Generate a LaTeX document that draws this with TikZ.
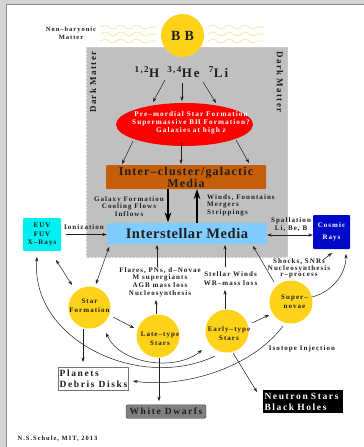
\documentclass[tikz,border=0pt]{standalone}
\usepackage{fontspec}
\setmainfont{Liberation Serif}
\newfontfamily\lsA[LetterSpace=15]{Liberation Serif}
\newfontfamily\lsB[LetterSpace=4]{Liberation Serif}
\newfontfamily\lsC[LetterSpace=10]{Liberation Serif}
\newfontfamily\lsD[LetterSpace=17]{Liberation Serif}
\newfontfamily\lsE[LetterSpace=30]{Liberation Serif}
\usetikzlibrary{arrows.meta,decorations.pathmorphing,shapes.geometric,calc}
\definecolor{pagegray}{RGB}{212,212,212}
\definecolor{edgegray}{RGB}{140,140,140}
\definecolor{gold}{RGB}{254,210,24}
\definecolor{dmgray}{RGB}{192,192,192}
\definecolor{wavecol}{RGB}{245,228,150}
\definecolor{icbrown}{RGB}{196,94,8}
\definecolor{ismblue}{RGB}{128,204,255}
\definecolor{euvcyan}{RGB}{0,240,240}
\definecolor{crblue}{RGB}{0,10,200}
\definecolor{wdgray}{RGB}{128,128,128}
\definecolor{ink}{RGB}{30,30,30}
\begin{document}
\begin{tikzpicture}[x=1pt,y=-1pt,
  lbl/.style={font=\lsA\bfseries\fontsize{7}{7.6}\selectfont, text=ink, align=center, inner sep=0},
  ctxt/.style={font=\lsA\bfseries\fontsize{7}{9}\selectfont, text=ink, align=center, inner sep=0},
  isotope/.style={font=\lsA\bfseries\fontsize{13}{13}\selectfont, text=ink, inner sep=0},
  dmtext/.style={font=\lsA\bfseries\fontsize{9}{9}\selectfont, text=ink, inner sep=0},
  star/.style={circle, fill=gold, inner sep=0},
  bigbox/.style={font=\lsD\bfseries\fontsize{9.5}{11}\selectfont, align=left, inner ysep=0, inner xsep=1.5pt},
  wavy/.style={draw=wavecol, line width=0.6pt, decorate, decoration={snake, segment length=16pt, amplitude=2pt}},
  arr/.style={-{Stealth[length=4.5pt,width=3.2pt]}, draw=ink, line width=0.5pt},
  darr/.style={{Stealth[length=4.5pt,width=3.2pt]}-{Stealth[length=4.5pt,width=3.2pt]}, draw=ink, line width=0.5pt},
  bigarr/.style={-{Stealth[length=10pt,width=6.5pt]}, draw=black, line width=1.4pt}]
\useasboundingbox (0,0) rectangle (364,447);
\fill[pagegray] (0,0) rectangle (364,447);
\fill[white] (6,4) rectangle (364,447);
\draw[edgegray, line width=0.8pt] (6,447) -- (6,4) -- (364,4);

% waves
\foreach \yy in {27,34,41} {
  \draw[wavy] (100,\yy) -- (156,\yy);
  \draw[wavy] (208,\yy) -- (265,\yy);
}
\node[lbl, font=\lsA\bfseries\fontsize{6.5}{8}\selectfont] (nb) at (71,33) {Non–baryonic\\Matter};

% dark matter region
\node[draw=white!80!black, densely dotted, fill=dmgray, minimum width=201pt, minimum height=210pt, inner sep=0] (dm) at (187,152) {};
\node[dmtext, rotate=90] (dml) at (93,82) {Dark Matter};
\node[dmtext, rotate=-90] (dmr) at (280,82) {Dark Matter};

% Big Bang
\node[star, minimum size=43pt, font=\lsE\bfseries\fontsize{14}{14}\selectfont, text=ink] (bb) at (182.5,35.5) {BB};

% isotopes
\node[isotope] (h) at (147,72) {\textsuperscript{1,2}H};
\node[isotope] (he) at (183.5,72) {\textsuperscript{3,4}He};
\node[isotope] (li) at (218.5,72) {\textsuperscript{7}Li};

% ellipse
\node[ellipse, fill=red, minimum width=137pt, minimum height=43pt, inner sep=0] (el) at (184.5,124.5) {};
\node[lbl, text=white, font=\lsA\bfseries\fontsize{7.2}{8}\selectfont] (elt) at (191,123) {Pre–mordial Star Formation\\Supermassive BH Formation?\\Galaxies at high z};

% media boxes
\node[fill=icbrown, minimum width=160pt, minimum height=24pt, inner sep=0, rounded corners=1pt, align=center, font=\lsC\bfseries\fontsize{12}{10.5}\selectfont, text=ink] (ic) at (186,177) {Inter–cluster/galactic\\Media};
\node[fill=ismblue, minimum width=160pt, minimum height=21pt, inner sep=0, font=\lsB\bfseries\fontsize{14.5}{15}\selectfont, text=ink] (ism) at (187,233.5) {Interstellar Media};
\node[fill=euvcyan, minimum width=38pt, minimum height=33pt, rounded corners=1pt, lbl, font=\lsA\bfseries\fontsize{7}{8.5}\selectfont] (euv) at (42,234.5) {EUV\\FUV\\X–Rays};
\node[fill=crblue, minimum width=37pt, minimum height=34pt, rounded corners=1pt, lbl, text=white, font=\lsA\bfseries\fontsize{7}{11.7}\selectfont] (cr) at (331.5,232) {Cosmic\\Rays};

% labels
\node[lbl] (gf) at (129,206.5) {Galaxy Formation\\Cooling Flows\\Inflows};
\node[lbl, align=left, anchor=west] (wf) at (207,205) {Winds, Fountains\\Mergers\\Strippings};
\node[lbl] (ion) at (84,227) {Ionization};
\node[lbl] (spall) at (291,224.5) {Spallation\\Li, Be, B};
\node[lbl] (fl) at (160,282) {Flares, PNs, d–Novae\\M supergiants\\AGB mass loss\\Nucleosynthesis};
\node[lbl, font=\lsA\bfseries\fontsize{7}{9}\selectfont] (sw) at (230.5,278.5) {Stellar Winds\\WR–mass loss};
\node[lbl, font=\lsA\bfseries\fontsize{7}{6.8}\selectfont] (sh) at (299,268.5) {Shocks, SNRs\\Nucleosynthesis\\r–process};
\node[lbl] (iso) at (302,348.5) {Isotope Injection};
\node[lbl, font=\lsA\bfseries\fontsize{6.5}{7}\selectfont] (credit) at (57.5,438.7) {N.S.Schulz, MIT, 2013};

% stars
\node[star, minimum size=42pt] (sf) at (89.5,307.5) {};
\node[star, minimum size=43pt] (lt) at (158,336) {};
\node[star, minimum size=43pt] (et) at (227,331) {};
\node[star, minimum size=43pt] (sn) at (291,302) {};
\node[ctxt] (sft) at (89.5,306) {Star\\Formation};
\node[ctxt] (ltt) at (160,339) {Late–type\\Stars};
\node[ctxt] (ett) at (229,333.7) {Early–type\\Stars};
\node[ctxt] (snt) at (294.5,301.7) {Super–\\novae};

% end products
\node[bigbox, draw=black!55, fill=white, minimum width=69pt, minimum height=23pt, inner xsep=1pt, text=ink] (pl) at (93.5,378.5) {Planets\\Debris Disks};
\node[bigbox, draw=black!75, fill=wdgray, rounded corners=1.5pt, minimum width=80pt, minimum height=13.5pt, align=center, text=ink] (wd) at (166,411.5) {White Dwarfs};
\node[bigbox, fill=black, text width=77pt, minimum height=23pt, text=white] (ns) at (303,401.5) {Neutron Stars\\Black Holes};

% connectors: top
\draw[arr] ($(h)+(18,8)$) -- ($(el)+(-31.5,-22.5)$);
\draw[arr] ($(he)+(-1.5,11)$) -- ($(el)+(-2.5,-23.5)$);
\draw[arr] ($(li)+(-15.5,10)$) -- ($(el)+(31.5,-21.5)$);
\draw[arr] ($(el)+(-51.5,16.5)$) -- ($(ic)+(-64,-13)$);
\draw[arr] ($(el)+(-3.5,18.5)$) -- ($(ic)+(-5,-13)$);
\draw[arr] ($(el)+(51.5,15.5)$) -- ($(ic)+(63,-14)$);
\draw[bigarr] ($(ic)+(-18,12)$) -- ($(ism)+(-19,-11)$);
\draw[bigarr] ($(ism)+(10,-11)$) -- ($(ic)+(11,12)$);

% around ISM
\draw[arr] ($(euv.east)+(5,0)$) -- ($(ism.west)+(0,1)$);
\draw[darr] ($(ism.east)+(0,1.5)$) -- ($(cr.west)+(0,3)$);
\draw[darr] ($(ism)+(-78,13.5)$) -- ($(sf)+(6.5,-23.5)$);
\draw[darr] ($(euv)+(14,25.5)$) -- ($(sf)+(-17.5,-22.5)$);

% star flows
\draw[arr] ($(sf)+(23.5,9.5)$) -- ($(lt)+(-24,-8)$);
\draw[arr] ($(lt)+(-2,-22)$) -- ($(fl)+(-4,18)$);
\draw[arr] ($(fl)+(-3,-15)$) -- ($(ism)+(-30,11.5)$);
\draw[arr] ($(et)+(-2,-22)$) -- ($(sw)+(-5.5,11.5)$);
\draw[arr] ($(sw)+(-5.5,-11.5)$) -- ($(ism)+(38,11.5)$);
\draw[arr] ($(et)+(25,-8)$) -- ($(sn)+(-22,13)$);
\draw[arr] ($(sn)+(-17,-20)$) -- ($(ism)+(66,12.5)$);
\draw[arr] ($(sh)+(24,-8.5)$) -- ($(cr)+(0.5,21)$);
\draw[arr] ($(sn)+(21,-5)$) .. controls +(20,-5) and +(0,20) .. ($(cr)+(14.5,22)$);

% big arcs
\draw[darr] ($(sf)+(16.5,25.5)$) .. controls +(14,31) and +(-27,22) .. ($(et)+(-25,19)$);
\draw[arr] ($(et)+(-12,25)$) .. controls +(-75,36) and +(-7,83) .. ($(euv)+(-5,22.5)$);
\draw[arr] ($(sn)+(-8,24)$) .. controls +(-33,44) and +(47,7) .. ($(pl)+(39.5,2.5)$);

% to end products
\draw[arr] ($(sf)+(-6.5,21.5)$) -- ($(pl)+(-10.5,-16.5)$);
\draw[arr] ($(lt)+(1,22)$) -- ($(wd)+(-7,-10.5)$);
\draw[arr] ($(et)+(6,22)$) -- ($(ns)+(-46,-9.5)$);
\end{tikzpicture}
\end{document}
